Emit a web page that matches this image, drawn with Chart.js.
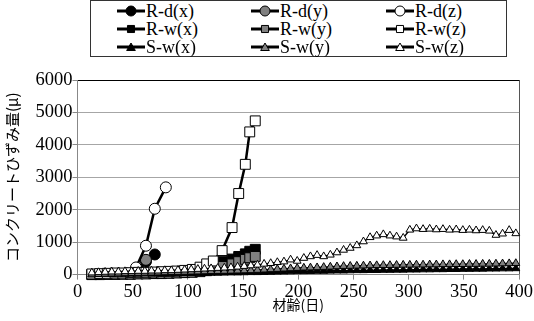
<!DOCTYPE html>
<html>
<head>
<meta charset="utf-8">
<script src="https://cdn.jsdelivr.net/npm/chart.js@4/dist/chart.umd.min.js"></script>
<style>
  html, body { margin: 0; padding: 0; background: #fff; }
  #wrap { position: relative; width: 534px; height: 321px; }
  #legend { position: absolute; left: 90px; top: 0; width: 417px; height: 57px; border: 1px solid #333; box-sizing: border-box; background: #fff; }
  .item { position: absolute; display: flex; align-items: center; height: 18px; font: 18px "Liberation Serif", serif; color: #000; white-space: nowrap; }
  .item canvas { width: 28px; height: 14px; margin-right: 1px; }
</style>
</head>
<body>
<div id="wrap">
  <canvas id="myChart" width="534" height="321"></canvas>
  <div id="legend"></div>
</div>
<script>
// R-d series (days, values)
const rdxDays = [53, 62, 70];
const rdxValues = [60, 400, 620];
const rdyDays = [53, 62];
const rdyValues = [60, 455];
const rdzDays = [53, 62, 70, 80];
const rdzValues = [220, 890, 2030, 2690];

// R-w series
const rwDays = [13, 20, 27, 34, 41, 48, 55, 62, 69, 76, 83, 90, 97, 104, 111, 117, 123, 131, 140, 146, 152, 156, 161];
const rwxValues = [0, 0, 10, 10, 20, 20, 30, 30, 40, 40, 50, 60, 70, 90, 120, 180, 300, 400, 480, 560, 640, 720, 780];
const rwyValues = [0, 0, 5, 5, 10, 10, 20, 20, 30, 30, 40, 50, 60, 70, 90, 120, 180, 250, 330, 400, 470, 520, 560];
const rwzValues = [20, 30, 40, 50, 50, 60, 70, 70, 80, 90, 100, 110, 130, 160, 230, 330, 420, 740, 1450, 2500, 3400, 4400, 4740];

// S-w series
const swDays = [13, 19, 25, 31, 37, 43, 49, 55, 61, 67, 73, 79, 85, 91, 97, 103, 109, 115, 121, 127,
  133, 139, 145, 151, 157, 163, 169, 175, 181, 187, 193, 199, 205, 211, 217, 223, 229, 235, 241, 247,
  253, 259, 265, 271, 277, 283, 289, 295, 301, 307, 313, 319, 325, 331, 337, 343, 349, 355, 361, 367,
  373, 379, 385, 391, 397];
const swxValues = [0, 5, 10, 10, 15, 15, 20, 20, 25, 25, 30, 30, 35, 35, 40, 40, 45, 45, 50, 50,
  55, 60, 60, 65, 70, 70, 75, 80, 85, 90, 95, 100, 100, 105, 110, 110, 115, 120, 120, 125,
  130, 130, 135, 135, 140, 140, 145, 145, 150, 150, 155, 155, 160, 160, 165, 165, 170, 170, 175, 175,
  180, 180, 185, 185, 190];
const swyValues = [0, 10, 20, 25, 30, 35, 40, 45, 50, 55, 60, 65, 70, 75, 80, 85, 90, 95, 100, 105,
  110, 115, 120, 125, 130, 140, 150, 160, 170, 180, 190, 200, 210, 215, 220, 230, 240, 250, 260, 265,
  270, 275, 280, 285, 290, 290, 295, 300, 300, 305, 305, 310, 310, 315, 315, 320, 320, 325, 325, 330,
  330, 335, 340, 345, 350];
const swzValues = [60, 70, 80, 90, 90, 100, 100, 110, 110, 120, 120, 130, 130, 140, 150, 160, 170, 180, 190, 200,
  210, 220, 240, 260, 280, 300, 330, 350, 380, 400, 460, 420, 510, 560, 600, 560, 610, 680, 760, 820,
  900, 1020, 1150, 1200, 1240, 1200, 1170, 1130, 1380, 1420, 1400, 1410, 1390, 1400, 1380, 1390, 1370, 1380, 1360, 1370,
  1350, 1220, 1260, 1370, 1270];

const yTicks = [0, 1000, 2000, 3000, 4000, 5000, 6000];
const xTicks = [0, 50, 100, 150, 200, 250, 300, 350, 400];

const serif = "'Liberation Serif', 'Times New Roman', serif";
const jp = "'Noto Sans CJK JP', sans-serif";
Chart.defaults.font.family = serif;

function series(label, days, values, style, fill, radius, lineWidth) {
  return {
    label: label,
    data: days.map((d, i) => ({ x: d, y: values[i] })),
    borderColor: "#000",
    borderWidth: lineWidth,
    pointStyle: style,
    pointRadius: radius,
    pointBackgroundColor: fill,
    pointBorderColor: "#000",
    pointBorderWidth: 1,
    tension: 0,
    clip: false,
  };
}

const datasets = [
  series("R-d(x)", rdxDays, rdxValues, "circle", "#000", 5.5, 2.5),
  series("R-d(y)", rdyDays, rdyValues, "circle", "#808080", 5.5, 2.5),
  series("R-d(z)", rdzDays, rdzValues, "circle", "#fff", 5.5, 2.5),
  series("R-w(x)", rwDays, rwxValues, "rect", "#000", 7, 2.5),
  series("R-w(y)", rwDays, rwyValues, "rect", "#808080", 7, 2.5),
  series("R-w(z)", rwDays, rwzValues, "rect", "#fff", 7, 2.5),
  series("S-w(x)", swDays, swxValues, "triangle", "#000", 4.5, 1.5),
  series("S-w(y)", swDays, swyValues, "triangle", "#808080", 4.5, 1.5),
  series("S-w(z)", swDays, swzValues, "triangle", "#fff", 4.5, 1.5),
];
// later series on top, like the original
datasets.forEach((ds, i) => { ds.order = datasets.length - i; });

// html legend, 3 columns x 3 rows
const legendCols = [26, 160, 295];
const legendRows = [1, 19, 37];
const legendBox = document.getElementById("legend");
datasets.forEach((ds, i) => {
  const item = document.createElement("div");
  item.className = "item";
  item.style.left = legendCols[i % 3] + "px";
  item.style.top = legendRows[Math.floor(i / 3)] + "px";
  const c = document.createElement("canvas");
  c.width = 28;
  c.height = 14;
  const ctx = c.getContext("2d");
  ctx.strokeStyle = "#000";
  ctx.lineWidth = 3;
  ctx.beginPath();
  ctx.moveTo(0, 7);
  ctx.lineTo(28, 7);
  ctx.stroke();
  ctx.fillStyle = ds.pointBackgroundColor;
  ctx.strokeStyle = "#000";
  ctx.lineWidth = 1;
  Chart.helpers.drawPoint(ctx, { pointStyle: ds.pointStyle, radius: 5, rotation: 0, borderWidth: 1 }, 14, ds.pointStyle === "triangle" ? 8 : 7);
  item.appendChild(c);
  const span = document.createElement("span");
  span.textContent = ds.label;
  item.appendChild(span);
  legendBox.appendChild(item);
});

new Chart("myChart", {
  type: "line",
  data: { datasets: datasets },
  options: {
    responsive: false,
    animation: false,
    layout: { padding: { top: 80, right: 8, left: 2, bottom: 11 } },
    plugins: { legend: { display: false }, tooltip: { enabled: false } },
    scales: {
      x: {
        type: "linear",
        min: 0,
        max: 400,
        afterBuildTicks: (axis) => { axis.ticks = xTicks.map((v) => ({ value: v })); },
        ticks: { color: "#000", font: { family: serif, size: 18.5 }, padding: 1, maxRotation: 0, callback: (v) => String(v) },
        grid: {
          color: (ctx) => (ctx.tick && ctx.tick.value === 400 ? "#555" : "transparent"),
          tickColor: "#888",
          tickLength: 5,
        },
        border: { color: "#888", width: 1 },
        title: { display: true, text: "材齢(日)", color: "#000", font: { family: jp, size: 14, lineHeight: 0.8 }, padding: { top: -5, bottom: 0 } },
      },
      y: {
        min: 0,
        max: 6000,
        afterBuildTicks: (axis) => { axis.ticks = yTicks.map((v) => ({ value: v })); },
        ticks: { color: "#000", font: { family: serif, size: 18.5 }, padding: 0, callback: (v) => String(v) },
        grid: {
          color: (ctx) => (ctx.tick && ctx.tick.value === 6000 ? "#000" : "#a6a6a6"),
          tickColor: "#888",
          tickLength: 5,
        },
        border: { color: "#888", width: 1 },
        title: { display: true, text: "コンクリートひずみ量(μ)", color: "#000", font: { family: jp, size: 15 }, padding: { top: 1.5, bottom: 14 } },
      },
    },
  },
});
</script>
</body>
</html>
